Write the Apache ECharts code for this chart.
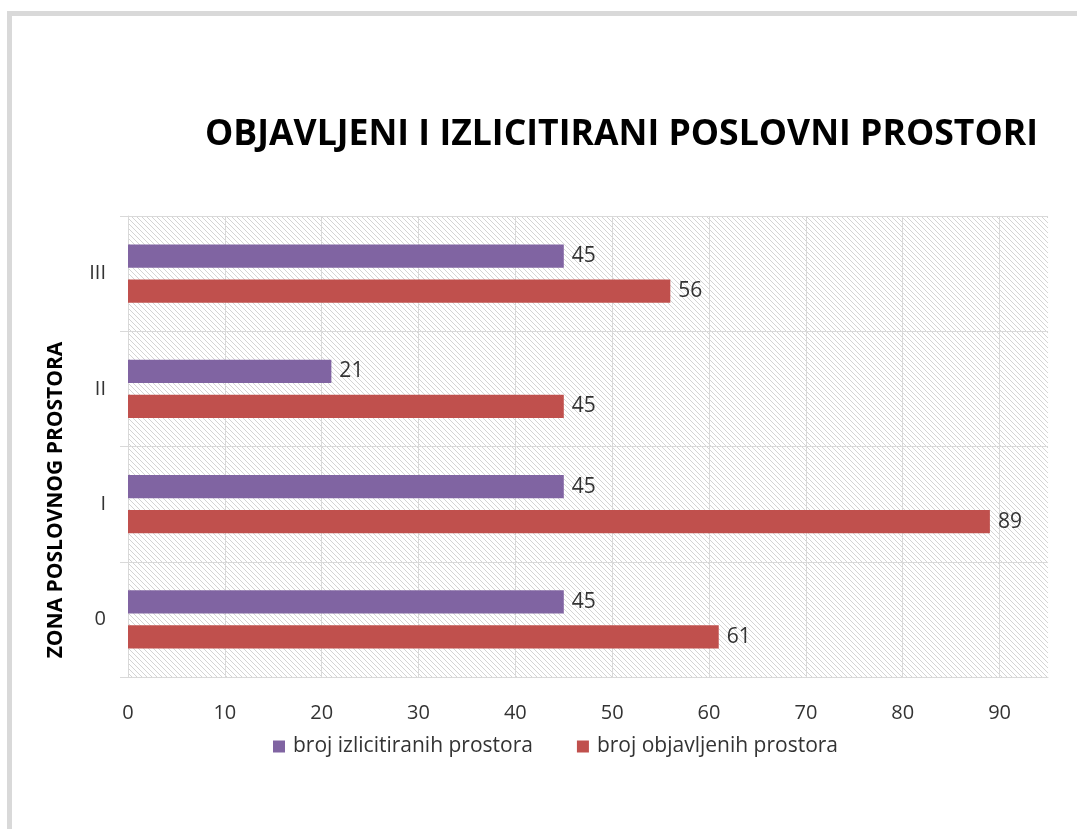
<!DOCTYPE html>
<html>
<head>
<meta charset="utf-8">
<script src="https://cdn.jsdelivr.net/npm/echarts@6/dist/echarts.min.js"></script>
<style>
html,body{margin:0;padding:0;background:#fff;}
#chart{width:1077px;height:829px;}
</style>
</head>
<body>
<div id="chart"></div>
<script>
const titleText = 'OBJAVLJENI I IZLICITIRANI POSLOVNI PROSTORI';
const yAxisTitle = 'ZONA POSLOVNOG PROSTORA';
const categories = ['0', 'I', 'II', 'III'];
const seriesNames = ['broj izlicitiranih prostora', 'broj objavljenih prostora'];
const izlicitirani = [45, 45, 21, 45];
const objavljeni = [61, 89, 45, 56];
const xMin = 0, xMax = 95, xInterval = 10;

// hatch pattern
const tile = document.createElement('canvas');
tile.width = 5; tile.height = 5;
const tc = tile.getContext('2d');
tc.fillStyle = '#ffffff';
tc.fillRect(0, 0, 5, 5);
tc.strokeStyle = '#d4d4d4';
tc.lineWidth = 1;
tc.beginPath();
tc.moveTo(-1, -1); tc.lineTo(6, 6);
tc.moveTo(-1, 4); tc.lineTo(1, 6);
tc.moveTo(4, -1); tc.lineTo(6, 1);
tc.stroke();

const font = 'Open Sans, Noto Sans, sans-serif';
const textColor = '#333333';

// condense the title horizontally to the reference width
const titleFontSize = 36;
const mc = document.createElement('canvas').getContext('2d');
mc.font = 'bold ' + titleFontSize + 'px "Open Sans"';
const titleNatural = mc.measureText(titleText).width;
const titleScaleX = 833 / titleNatural;

const chart = echarts.init(document.getElementById('chart'), null, {renderer: 'canvas'});

chart.setOption({
  animation: false,
  backgroundColor: '#ffffff',
  grid: {
    left: 128, right: 29, top: 216, bottom: 152,
    show: true,
    borderWidth: 0,
    backgroundColor: {image: tile, repeat: 'repeat'}
  },
  legend: {
    data: seriesNames,
    left: 273,
    top: 736,
    padding: 0,
    icon: 'rect',
    itemWidth: 12,
    itemHeight: 12,
    itemGap: 44,
    textStyle: {fontFamily: font, fontSize: 21, color: textColor, padding: [0, 0, 0, 3]}
  },
  xAxis: {
    type: 'value',
    min: xMin, max: xMax, interval: xInterval,
    axisLine: {show: true, lineStyle: {color: '#d9d9d9', width: 1}},
    axisTick: {show: false},
    splitLine: {show: true, showMaxLine: false, lineStyle: {color: '#d9d9d9', width: 1}},
    axisLabel: {
      showMaxLabel: false,
      margin: 26,
      fontFamily: font, fontSize: 20, color: textColor
    }
  },
  yAxis: {
    type: 'category',
    data: categories,
    axisLine: {show: true, lineStyle: {color: '#d9d9d9', width: 1}},
    axisTick: {show: true, length: 8, lineStyle: {color: '#d9d9d9'}},
    splitLine: {show: true, lineStyle: {color: '#d9d9d9', width: 1}},
    axisLabel: {margin: 22, fontFamily: font, fontSize: 20, color: textColor}
  },
  series: [
    {
      name: seriesNames[0],
      type: 'bar',
      data: izlicitirani,
      barWidth: '20%',
      barGap: '52%',
      itemStyle: {color: '#8064a2'},
      label: {show: true, position: 'right', distance: 8, fontFamily: font, fontSize: 21, color: textColor}
    },
    {
      name: seriesNames[1],
      type: 'bar',
      data: objavljeni,
      barWidth: '20%',
      barGap: '52%',
      itemStyle: {color: '#c0504d'},
      label: {show: true, position: 'right', distance: 8, fontFamily: font, fontSize: 21, color: textColor}
    }
  ],
  graphic: [
    {
      type: 'rect',
      silent: true,
      z: -10,
      shape: {x: 9.5, y: 13.5, width: 1200, height: 1000},
      style: {fill: 'none', stroke: '#d9d9d9', lineWidth: 5}
    },
    {
      type: 'text',
      x: 205, y: 135,
      scaleX: titleScaleX,
      style: {
        text: titleText,
        fontFamily: 'Open Sans',
        fontWeight: 'bold',
        fontSize: titleFontSize,
        fill: '#000000',
        textAlign: 'left',
        textVerticalAlign: 'middle'
      }
    },
    {
      type: 'text',
      x: 56, y: 500,
      rotation: Math.PI / 2,
      style: {
        text: yAxisTitle,
        fontFamily: font,
        fontWeight: 'bold',
        fontSize: 21,
        fill: '#000000',
        textAlign: 'center',
        textVerticalAlign: 'middle'
      }
    }
  ]
});
</script>
</body>
</html>
